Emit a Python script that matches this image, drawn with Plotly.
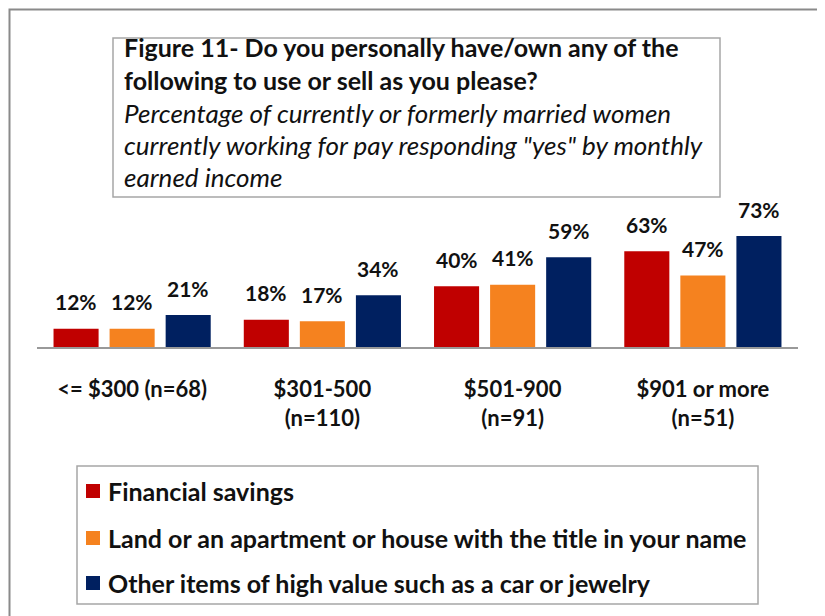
import plotly.graph_objects as go

categories = ["<= $300 (n=68)", "$301-500<br>(n=110)", "$501-900<br>(n=91)", "$901 or more<br>(n=51)"]
series_names = ["Financial savings",
                "Land or an apartment or house with the title in your name",
                "Other items of high value such as a car or jewelry"]
financial = [12, 18, 40, 63]
land = [12, 17, 41, 47]
other = [21, 34, 59, 73]
colors = ["#C00000", "#F5821F", "#002060"]

title_bold = ["Figure 11- Do you personally have/own any of the",
              "following to use or sell as you please?"]
title_italic = ["Percentage of currently or formerly married women",
                "currently working for pay responding \"yes\" by monthly",
                "earned income"]

OFF = 8  # page body margin
W, H = 825 - OFF, 616 - OFF
FONT = "Lato"

def px(x):
    return (x - OFF) / W

def py(y):
    return 1 - (y - OFF) / H

series = [financial, land, other]
bargap = 0.116
slot = (1 - bargap) / 3

fig = go.Figure()
for name, vals, col in zip(series_names, series, colors):
    fig.add_trace(go.Bar(
        x=list(range(len(categories))), y=vals, name=name, marker_color=col,
        marker_line_width=0, showlegend=False,
    ))

baseline = 347
pxper = 1.52
ytop = 80
shapes = []
annotations = []

# value labels
for j, vals in enumerate(series):
    for i, v in enumerate(vals):
        annotations.append(dict(text=f"<b>{v}%</b>", x=i + (j - 1) * slot, y=v, xref="x", yref="y",
                                xanchor="center", yanchor="middle", yshift=27, showarrow=False,
                                font=dict(family=FONT, size=21, color="#111")))

# outer border
shapes.append(dict(type="rect", xref="paper", yref="paper", x0=px(9.5), x1=px(860), y0=py(650), y1=py(9.5),
                   line=dict(color="#8a8a8a", width=2), fillcolor="rgba(0,0,0,0)", layer="below"))
# title box
shapes.append(dict(type="rect", xref="paper", yref="paper", x0=px(113), x1=px(720), y0=py(197), y1=py(38),
                   line=dict(color="#a6a6a6", width=1.5), fillcolor="white"))
ylines = [47, 80, 113, 145, 177]
for i, t in enumerate(title_bold + title_italic):
    txt = f"<b>{t}</b>" if i < 2 else f"<i>{t}</i>"
    annotations.append(dict(text=txt, xref="paper", yref="paper", x=px(122), y=py(ylines[i]),
                            xanchor="left", yanchor="middle", showarrow=False,
                            font=dict(family=FONT, size=25 if i < 2 else 26, color="#111")))
# legend box
shapes.append(dict(type="rect", xref="paper", yref="paper", x0=px(77), x1=px(758), y0=py(604), y1=py(466),
                   line=dict(color="#a6a6a6", width=1.5), fillcolor="white"))
leg_y = [491, 538, 583]
for name, col, yy in zip(series_names, colors, leg_y):
    shapes.append(dict(type="rect", xref="paper", yref="paper", x0=px(86), x1=px(100), y0=py(yy + 7), y1=py(yy - 7),
                       line=dict(width=0), fillcolor=col))
    annotations.append(dict(text=f"<b>{name}</b>", xref="paper", yref="paper", x=px(106), y=py(yy),
                            xanchor="left", yanchor="middle", showarrow=False,
                            font=dict(family=FONT, size=25, color="#111")))

fig.update_layout(
    width=W, height=H, autosize=False,
    margin=dict(l=0, r=0, t=0, b=0),
    paper_bgcolor="white", plot_bgcolor="white",
    barmode="group", bargap=bargap, bargroupgap=0.196,
    shapes=shapes, annotations=annotations,
    xaxis=dict(domain=[px(37), px(798)], range=[-0.5, 3.5],
               tickvals=list(range(len(categories))), ticktext=categories,
               showline=True, linecolor="#999999", linewidth=2, showgrid=False, zeroline=False,
               ticks="outside", ticklen=22, tickcolor="rgba(0,0,0,0)",
               tickfont=dict(family=FONT, size=22, color="#111", weight="bold")),
    yaxis=dict(domain=[py(baseline), py(baseline - ytop * pxper)], range=[0, ytop],
               visible=False, showgrid=False, zeroline=False),
    font=dict(family=FONT),
    showlegend=False,
)

fig.write_html("out.html")
